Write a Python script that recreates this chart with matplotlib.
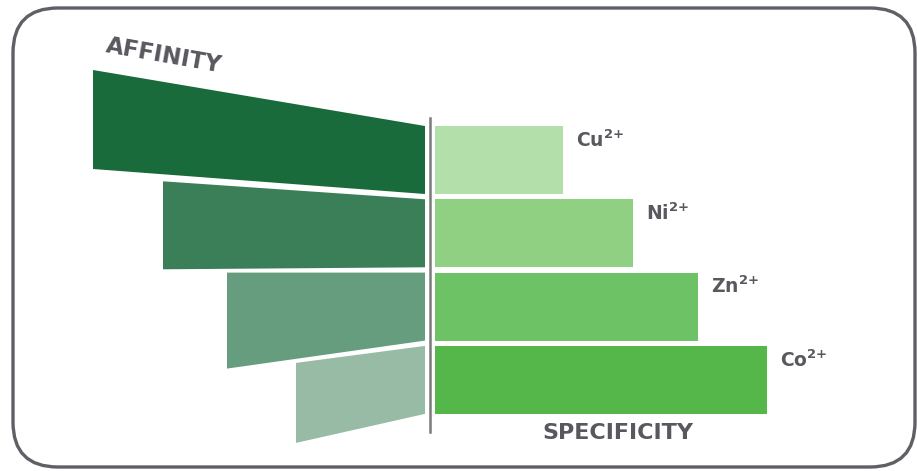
import matplotlib
matplotlib.use("Agg")
import matplotlib.pyplot as plt
from matplotlib.patches import Polygon, FancyBboxPatch

plt.rcParams["mathtext.fontset"] = "dejavusans"

# ---- data ----
ions = ["Cu", "Ni", "Zn", "Co"]
charge = "2{+}"
specificity = [128, 198, 263, 332]
affinity = [332, 262, 198, 129]

spec_colors = ["#b3dfab", "#8fd083", "#6cc265", "#55b74a"]
aff_colors = ["#1a6b3c", "#3b7f58", "#669d7e", "#97bba5"]

# ---- layout (pixel-like units) ----
row_top0 = 126
pitch = 73.3
bar_h = 68
gap = 5
skew_top = [-56, -18, 0, 17]
skew_bot = [-25, 2, 28, 29]
text_col = "#58585f"

fig = plt.figure(figsize=(9.17, 4.71), dpi=100)
ax = fig.add_axes([0, 0, 1, 1])
ax.set_xlim(-430, 487)
ax.set_ylim(471, 0)
ax.axis("off")

# border
box = FancyBboxPatch((13 - 430, 8), 902, 459,
                     boxstyle="round,pad=0,rounding_size=45",
                     fill=False, edgecolor="#5f5f66", linewidth=2.4)
ax.add_patch(box)

tops = [row_top0 + i * pitch for i in range(len(ions))]
centers = [t + bar_h / 2 for t in tops]

ax.barh(centers, specificity, left=gap, height=bar_h, color=spec_colors,
        edgecolor="none")

for i, a in enumerate(affinity):
    t, b = tops[i], tops[i] + bar_h
    xr, xl = -gap, -gap - a
    poly = Polygon([(xl, t + skew_top[i]), (xr, t), (xr, b), (xl, b + skew_bot[i])],
                   closed=True, facecolor=aff_colors[i], edgecolor="none")
    ax.add_patch(poly)

ax.plot([0, 0], [118, 432], color="#7a7a7a", linewidth=1.8)

for i, lab in enumerate(ions):
    ax.text(gap + specificity[i] + 13, tops[i] + 14,
            lab + r"$^{\mathbf{" + charge + "}}$", ha="left", va="center",
            fontsize=13.5, fontweight="bold", color=text_col, family="DejaVu Sans")

ax.text(188, 433, "SPECIFICITY", ha="center", va="center", fontsize=16,
        fontweight="bold", color=text_col, family="DejaVu Sans")
ax.text(-266, 56, "AFFINITY", ha="center", va="center", fontsize=16.5,
        fontweight="bold", color=text_col, rotation=-10, family="DejaVu Sans",
        rotation_mode="anchor")

fig.savefig("out.png", dpi=100)
